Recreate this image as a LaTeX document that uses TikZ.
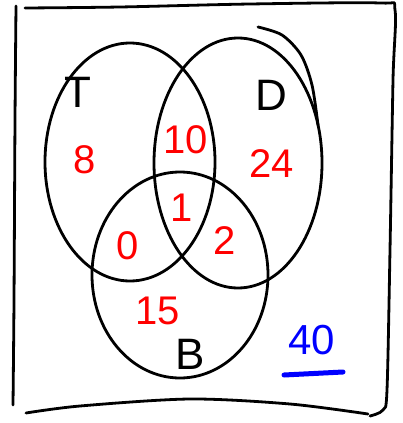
\documentclass[tikz,border=0pt]{standalone}
\usepackage{fontspec}
\setmainfont{Liberation Sans}
\begin{document}
\begin{tikzpicture}[x=1pt,y=-1pt,
  ink/.style={line width=2.8pt,line cap=round,line join=round,black},
  num/.style={text=red,font=\fontsize{40}{40}\selectfont},
  lab/.style={text=black,font=\fontsize{44}{44}\selectfont},
  tot/.style={text=blue,font=\fontsize{42}{42}\selectfont}]
\useasboundingbox (0,0) rectangle (403,423);
% outer frame (hand-drawn)
\draw[ink] plot[smooth] coordinates {(25,8) (120,7) (250,4) (380,3) (395,10) (393,80) (390,250) (387,390) (383,410) (370,416)};
\draw[ink] plot[smooth] coordinates {(16,6) (15,120) (14,300) (13,405)};
\draw[ink] plot[smooth] coordinates {(26,413) (80,406) (190,399) (290,404) (368,414)};
% circles
\draw[ink] (130,162) ellipse [x radius=85,y radius=119];
\draw[ink] (238,163) ellipse [x radius=84,y radius=125];
\draw[ink] plot[smooth] coordinates {(258,27) (282,35) (301,55) (312,85) (318,125)};
\draw[ink] (180,275) ellipse [x radius=88,y radius=103];
% set labels
\node[lab] (T) at (78,92) {T};
\node[lab] (D) at (271,95) {D};
\node[lab] (B) at (190,354) {B};
% region counts
\node[num] (n8) at (85,160) {8};
\node[num] (n10) at (186,140) {10};
\node[num] (n24) at (272,164) {24};
\node[num] (n1) at (182,208) {1};
\node[num] (n0) at (128,246) {0};
\node[num] (n2) at (225,241) {2};
\node[num] (n15) at (158,311) {15};
% total
\node[tot] (total) at (312,340) {40};
\coordinate (u1) at (284,375);
\coordinate (u2) at (343,372);
\draw[blue,line width=5pt,line cap=round] (u1) -- (u2);
\end{tikzpicture}
\end{document}
